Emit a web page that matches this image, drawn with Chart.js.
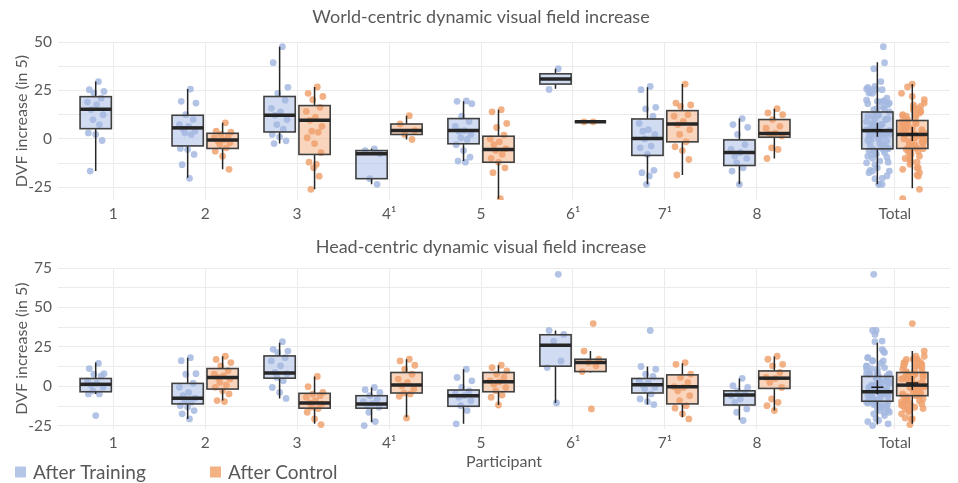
<!DOCTYPE html>
<html>
<head>
<meta charset="utf-8">
<script src="https://cdn.jsdelivr.net/npm/chart.js@4.4.1/dist/chart.umd.min.js"></script>
<style>
  html, body { margin: 0; padding: 0; background: #fff; }
  .panel { position: absolute; left: 0; width: 958px; }
</style>
</head>
<body>
<div class="panel" style="top:0;height:232px"><canvas id="chart-world"></canvas></div>
<div class="panel" style="top:232px;height:251px"><canvas id="chart-head"></canvas></div>
<script>
// 参与者与系列
const PARTICIPANTS = ['1', '2', '3', '4¹', '5', '6¹', '7¹', '8', 'Total'];
const SERIES = ['After Training', 'After Control'];

// box stats: [lower whisker, Q1, median, Q3, upper whisker]
const worldTrainBox = [
  [-16.6, 5.3, 15.3, 21.8, 29.6],
  [-20.0, -3.6, 5.7, 12.2, 25.7],
  [-2.4, 3.6, 12.2, 21.9, 47.6],
  [-23.4, -20.5, -7.6, -6.0, -5.1],
  [-11.4, -2.5, 4.3, 10.5, 19.4],
  [25.9, 28.3, 30.9, 33.6, 36.2],
  [-23.4, -8.5, 0.2, 10.3, 26.6],
  [-23.4, -13.7, -7.0, -0.5, 10.5],
  [-23.4, -5.1, 4.3, 13.9, 39.6],
];
const worldControlBox = [
  null,
  [-15.7, -4.9, -0.5, 2.9, 8.3],
  [-26.0, -8.0, 9.6, 17.2, 26.8],
  [-0.3, 2.3, 4.3, 7.7, 12.0],
  [-30.8, -12.0, -5.4, 1.4, 15.1],
  [8.8, 8.8, 8.8, 8.8, 8.8],
  [-18.6, -1.5, 7.7, 14.6, 28.3],
  [-10.1, 0.9, 2.8, 10.0, 15.6],
  [-25.5, -4.9, 2.3, 9.5, 28.3],
];
const worldMeans = [4.8, 2.5];

const worldTrainPts = [
  [29.6, 25.4, 24.5, 23.7, 21, 19, 17.7, 15.1, 12.5, 10, 7.4, 3.1, 2.3, -0.8, -16.6],
  [25.7, 19.4, 18.5, 12.5, 10, 7.4, 6.5, 5, 4, 3.1, 2.3, -4.9, -5.5, -8, -13.3, -20.3],
  [47.6, 39.3, 26.6, 23.5, 20, 15.8, 14, 12.2, 10, 7.4, 5, 2.3, 1, -1, -2.4],
  [-5.1, -6.0, -7.6, -20.5, -23.4],
  [19.6, 19.4, 18.2, 11.7, 9, 6.5, 4.3, 4, 2.3, 0.6, -0.3, -3, -6, -9.4, -11.4, -12],
  [36.2, 25.5],
  [27.1, 25.4, 16.3, 15.5, 11.7, 8, 4.8, 4, 2.3, 0, -3.7, -4.6, -8, -16.2, -17.4, -19.1, -23.4],
  [10.5, 7.4, 6, 2.3, -2.9, -5.4, -7, -8.9, -10, -12.3, -14.9, -16.6, -23.4],
];
const worldControlPts = [
  [],
  [8.3, 4, 3.5, 2.3, 1.5, 0.6, -0.5, -1.1, -2, -2.9, -4.6, -6.3, -8.9, -15.7],
  [26.8, 23.5, 21.9, 20.2, 16.3, 14.2, 11.3, 9.6, 6.5, 4, 3.5, 0.6, -2.4, -7.1, -12, -13.1, -14.9, -19.2, -26],
  [12, 7.7, 4.3, 2.3, -0.3],
  [15.1, 14, 8, 5.9, 2, 0, -1.5, -3, -5, -6, -8, -10, -12, -14.9, -17.4, -30.8],
  [8.8, 8.8],
  [28.3, 18.5, 17.5, 16.8, 12.5, 11.7, 9, 7.4, 4.8, 2.3, -1.5, -4, -6, -10.6, -18.6],
  [15.6, 13.4, 12.5, 10, 6.5, 5.5, 3, 2.5, 1.5, -4.6, -5.4, -10.1],
];

const headTrainBox = [
  [-4.8, -3.4, 1.3, 5.0, 15.1],
  [-20.6, -11.1, -7.5, 1.9, 18.2],
  [-7.6, 5.2, 8.4, 19.3, 27.7],
  [-22.7, -13.8, -11.1, -5.9, -0.7],
  [-23.7, -12.6, -5.9, -2.3, 10.9],
  [-10.5, 12.8, 26.0, 32.7, 35.4],
  [-11.5, -4.2, 1.0, 5.0, 12.6],
  [-21.2, -11.8, -5.5, -2.8, 5.0],
  [-24.2, -9.4, -3.4, 6.3, 27.7],
];
const headControlBox = [
  null,
  [-9.0, -1.7, 5.6, 11.3, 19.1],
  [-23.7, -13.8, -10.5, -4.4, 6.3],
  [-19.5, -4.2, 0.8, 8.8, 17.2],
  [-11.8, -3.4, 2.9, 8.8, 13.4],
  [8.8, 9.4, 15.1, 17.2, 22.4],
  [-19.5, -11.1, -0.2, 7.3, 14.7],
  [-15.3, -1.3, 5.2, 9.8, 18.9],
  [-23.7, -5.9, 0.8, 8.8, 22.4],
];
const headMeans = [-0.6, 2.1];

const headTrainPts = [
  [14.6, 11.3, 8, 7.7, 6.7, 3.5, 2, 0.8, -0.6, -2.8, -4.8, -4.8, -18.5],
  [18.2, 16.3, 8, 7.7, 2, -0.6, -3.8, -5.9, -7.5, -9, -10, -12.2, -13, -15.3, -17.4, -20.6],
  [28.3, 23.5, 22.4, 21.4, 18.2, 16.1, 13, 8.8, 8, 5.7, 3.5, -0.7, -3.8, -7.6],
  [-0.7, -2.1, -3.8, -5.9, -8, -9.7, -11, -11.8, -13.2, -16.4, -22.3, -24.8],
  [10.9, 5.7, 3.5, -0.7, -2.8, -4.8, -5.9, -6.9, -9.1, -12.2, -15.3, -23.7],
  [71, 35.4, 32.9, 28.7, 16.1, 11.9, -10.5],
  [35.4, 12.6, 10.9, 7.7, 6.3, 3.5, 2, 0.8, -0.5, -1.7, -4.8, -8, -9.7, -11.5],
  [5.1, 0.4, -0.7, -2.8, -4, -5.9, -8, -10.1, -14.3, -16.4, -21.6],
];
const headControlPts = [
  [],
  [19.1, 17.1, 15.1, 13, 9.9, 7.7, 6.7, 5.6, 4.6, 2.5, 0.8, -0.6, -2.8, -4.8, -9, -9.6],
  [6.3, -0.2, -3.8, -5, -5.9, -6.9, -9.1, -10.5, -11.1, -13.2, -14, -16.4, -20.6, -24.2],
  [17.2, 16.1, 13.4, 10.9, 7.7, 4.6, 2.5, 0.4, -1.7, -4.2, -4.8, -6.3, -20.1],
  [13.4, 11.9, 9.8, 7.7, 5.7, 3.5, 2.9, 1.4, -0.7, -2.8, -5.5, -6.9, -11.8],
  [39.8, 22.4, 17.2, 15.1, 13, 9.4, -14.3],
  [15.1, 14, 7.7, 5.7, 2.5, -0.2, -0.7, -2.8, -5.9, -9.1, -12.2, -13.8, -17.4, -20.6],
  [19.1, 17.2, 14, 13, 8.8, 5.7, 5, 2.5, -0.7, -8, -10.1, -12.2, -15.3],
];

const WORLD_TICKS = [-25, -12.5, 0, 12.5, 25, 37.5, 50];
const HEAD_TICKS = [-25, -12.5, 0, 12.5, 25, 37.5, 50, 62.5, 75];

const FONT = 'Lato, "Liberation Sans", sans-serif';
const TEXT = '#595959';
const GRID = '#ebebeb';
const PT_COLORS = ['rgba(165, 185, 225, 0.85)', 'rgba(240, 162, 112, 0.85)'];
const BOX_FILLS = ['rgba(180, 198, 234, 0.62)', 'rgba(245, 178, 135, 0.55)'];
const LEGEND_COLORS = ['#b4c7e7', '#f4b183'];

const BOX_OFFSET = 0.19;
const BOX_W = 0.34;
const SPREAD = 0.1;
const TOTAL_SPREAD = 0.13;
const JITTER = [0.3, -0.7, 0.9, -0.2, 0.6, -0.9, 0.1, -0.5, 0.8, -0.3, 0.4, -0.8, 0.0, 0.7, -0.6, 0.2, -0.1, 0.5, -0.4, 1.0];

// category centre on the x axis; "Total" sits a little further right
function catX(i) {
  return i < 8 ? i + 1 : 9.5;
}

function scatterData(ptsList, side) {
  const out = [];
  ptsList.forEach((pts, i) => {
    pts.forEach((v, j) => {
      out.push({ x: catX(i) + side * BOX_OFFSET + JITTER[j % JITTER.length] * SPREAD, y: v });
    });
  });
  ptsList.flat().forEach((v, j) => {
    out.push({ x: catX(8) + side * BOX_OFFSET + JITTER[(j * 7) % JITTER.length] * TOTAL_SPREAD, y: v });
  });
  return out;
}

function boxGeom(chart, i, side, stats) {
  const { x, y } = chart.scales;
  const cx = catX(i) + side * BOX_OFFSET;
  return {
    left: x.getPixelForValue(cx - BOX_W / 2),
    right: x.getPixelForValue(cx + BOX_W / 2),
    mid: x.getPixelForValue(cx),
    px: stats.map((v) => y.getPixelForValue(v)),
  };
}

const boxPlotPlugin = {
  id: 'boxPlot',
  beforeDatasetsDraw(chart, args, opts) {
    const ctx = chart.ctx;
    ctx.save();
    opts.groups.forEach((g, side) => {
      g.boxes.forEach((b, i) => {
        if (!b) return;
        const { left, right, px } = boxGeom(chart, i, side === 0 ? -1 : 1, b);
        ctx.fillStyle = BOX_FILLS[side];
        ctx.fillRect(left, px[3], right - left, px[1] - px[3]);
      });
    });
    ctx.restore();
  },
  afterDatasetsDraw(chart, args, opts) {
    const ctx = chart.ctx;
    ctx.save();
    opts.groups.forEach((g, side) => {
      const s = side === 0 ? -1 : 1;
      g.boxes.forEach((b, i) => {
        if (!b) return;
        const { left, right, mid, px } = boxGeom(chart, i, s, b);
        ctx.strokeStyle = '#262626';
        ctx.lineWidth = 1.5;
        ctx.beginPath();
        ctx.moveTo(mid, px[4]);
        ctx.lineTo(mid, px[3]);
        ctx.moveTo(mid, px[1]);
        ctx.lineTo(mid, px[0]);
        ctx.stroke();
        ctx.strokeStyle = '#404040';
        ctx.lineWidth = 1.6;
        ctx.strokeRect(left, px[3], right - left, px[1] - px[3]);
        ctx.strokeStyle = '#262626';
        ctx.lineWidth = 3.5;
        ctx.beginPath();
        ctx.moveTo(left, px[2]);
        ctx.lineTo(right, px[2]);
        ctx.stroke();
      });
      // mean marker on the Total box
      const { mid } = boxGeom(chart, 8, s, [0]);
      const my = chart.scales.y.getPixelForValue(g.mean);
      ctx.strokeStyle = '#1a1a1a';
      ctx.lineWidth = 1.5;
      ctx.beginPath();
      ctx.moveTo(mid - 6, my);
      ctx.lineTo(mid + 6, my);
      ctx.moveTo(mid, my - 7);
      ctx.lineTo(mid, my + 7);
      ctx.stroke();
    });
    ctx.restore();
  },
};

const bottomLegendPlugin = {
  id: 'bottomLegend',
  afterDraw(chart, args, opts) {
    if (!opts.display) return;
    const ctx = chart.ctx;
    const y = chart.height - 11;
    let x = 15;
    ctx.save();
    ctx.font = '19px ' + FONT;
    ctx.textBaseline = 'middle';
    chart.data.datasets.forEach((ds, i) => {
      ctx.fillStyle = LEGEND_COLORS[i];
      ctx.fillRect(x, y - 5.5, 11, 11);
      ctx.fillStyle = TEXT;
      ctx.fillText(ds.label, x + 18, y + 1);
      x += 195;
    });
    ctx.restore();
  },
};

function buildChart(canvasId, cfg) {
  const datasets = [cfg.trainPts, cfg.controlPts].map((pts, i) => ({
    label: SERIES[i],
    data: scatterData(pts, i === 0 ? -1 : 1),
    backgroundColor: PT_COLORS[i],
    borderWidth: 0,
    pointRadius: 3.4,
    pointHoverRadius: 3.4,
  }));

  return new Chart(document.getElementById(canvasId), {
    type: 'scatter',
    data: { datasets },
    plugins: [boxPlotPlugin, bottomLegendPlugin],
    options: {
      responsive: true,
      maintainAspectRatio: false,
      animation: false,
      layout: { padding: { left: 12, right: 8, top: 0, bottom: cfg.legend ? 18 : 0 } },
      plugins: {
        legend: { display: false },
        tooltip: { enabled: false },
        title: {
          display: true,
          text: cfg.title,
          color: TEXT,
          font: { family: FONT, size: 18, weight: 'normal' },
          padding: cfg.titlePadding,
        },
        boxPlot: {
          groups: [
            { boxes: cfg.trainBox, mean: cfg.means[0] },
            { boxes: cfg.controlBox, mean: cfg.means[1] },
          ],
        },
        bottomLegend: { display: cfg.legend },
      },
      scales: {
        x: {
          type: 'linear',
          min: 0.4,
          max: 10.1,
          afterBuildTicks: (scale) => {
            scale.ticks = PARTICIPANTS.map((_, i) => ({ value: catX(i) }));
          },
          afterFit: (scale) => {
            scale.height = cfg.xHeight;
          },
          ticks: {
            autoSkip: false,
            maxRotation: 0,
            padding: 5,
            color: TEXT,
            font: { family: FONT, size: 15.5 },
            callback: (v, idx) => PARTICIPANTS[idx],
          },
          grid: { color: GRID, drawTicks: false },
          border: { display: false },
          title: {
            display: cfg.legend,
            text: 'Participant',
            color: TEXT,
            font: { family: FONT, size: 16 },
            padding: { top: 0, bottom: -6 },
          },
        },
        y: {
          min: cfg.yMin,
          max: cfg.yMax,
          afterBuildTicks: (scale) => {
            scale.ticks = cfg.yTicks.map((v) => ({ value: v }));
          },
          afterFit: (scale) => {
            scale.width = 46;
          },
          ticks: {
            autoSkip: false,
            padding: 6,
            color: TEXT,
            font: { family: FONT, size: 15.5 },
            callback: (v) => (v % 25 === 0 ? v : ''),
          },
          grid: { color: GRID, drawTicks: false },
          border: { display: false },
          title: {
            display: true,
            text: 'DVF increase (in 5)',
            color: TEXT,
            font: { family: FONT, size: 16 },
            padding: 0,
          },
        },
      },
    },
  });
}

buildChart('chart-world', {
  title: 'World-centric dynamic visual field increase',
  titlePadding: { top: 6, bottom: 14.4 },
  trainBox: worldTrainBox,
  controlBox: worldControlBox,
  trainPts: worldTrainPts,
  controlPts: worldControlPts,
  means: worldMeans,
  yMin: -31.5,
  yMax: 50,
  yTicks: WORLD_TICKS,
  xHeight: 32,
  legend: false,
});

buildChart('chart-head', {
  title: 'Head-centric dynamic visual field increase',
  titlePadding: { top: 4, bottom: 10.4 },
  trainBox: headTrainBox,
  controlBox: headControlBox,
  trainPts: headTrainPts,
  controlPts: headControlPts,
  means: headMeans,
  yMin: -27,
  yMax: 75,
  yTicks: HEAD_TICKS,
  xHeight: 36,
  legend: true,
});
</script>
</body>
</html>
